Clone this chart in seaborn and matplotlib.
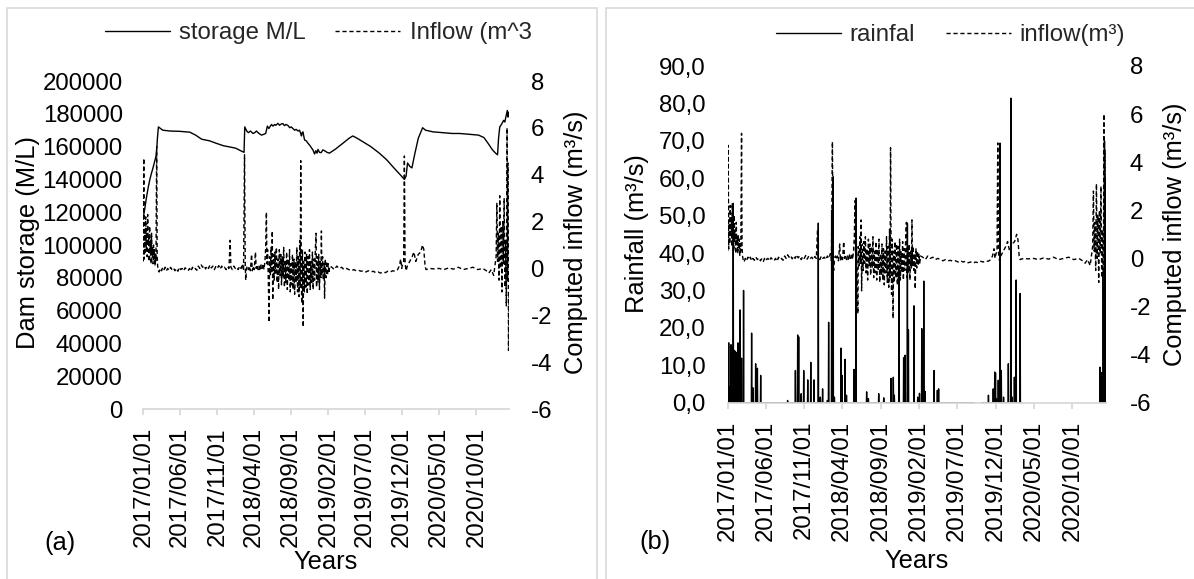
import numpy as np
import pandas as pd
import matplotlib
matplotlib.use("Agg")
import matplotlib.pyplot as plt
from matplotlib.patches import Rectangle
import seaborn as sns

# ---------------- data ----------------
START = "2017-01-01"
END_DAY = 1503

tick_labels = ["2017/01/01", "2017/06/01", "2017/11/01", "2018/04/01", "2018/09/01",
               "2019/02/01", "2019/07/01", "2019/12/01", "2020/05/01", "2020/10/01"]

# dam storage (M/L): day offset from 2017-01-01, value
storage_day = [0, 5, 12, 20, 27, 33, 38, 45, 52, 56, 58, 62, 80, 110, 150, 191, 215, 240, 273, 300,
               330, 355, 380, 400, 414, 417, 425, 432, 440, 451, 458, 465, 475, 486, 495, 503, 510, 516,
               520, 527, 533, 540, 545, 553, 560, 567, 574, 580, 587, 595, 602, 608, 615, 622, 628, 636,
               642, 647, 650, 653, 656, 660, 663, 670, 677, 683, 690, 697, 704, 709, 714, 718, 724, 731,
               738, 745, 755, 765, 790, 820, 845, 861, 880, 902, 935, 970, 1000, 1030, 1055, 1073, 1080,
               1086, 1095, 1104, 1115, 1130, 1148, 1160, 1190, 1230, 1270, 1300, 1340, 1378, 1400, 1417,
               1435, 1448, 1456, 1460, 1465, 1472, 1481, 1486, 1490, 1496, 1499, 1502]
storage_ml = [117000, 121000, 128000, 135000, 140000, 143500, 146000, 150000, 154000, 160000, 165000,
              172000, 170000, 169500, 169300, 168800, 167000, 164500, 163500, 162000, 160500, 159800,
              159000, 157500, 156500, 172000, 169500, 168500, 169500, 168000, 168500, 169500, 168000,
              167000, 167500, 168000, 172500, 171000, 172000, 173500, 172500, 173500, 173000, 174200,
              173000, 173800, 174000, 172800, 173500, 172800, 171500, 172000, 171000, 170000, 170500,
              169500, 170000, 168000, 166500, 168500, 169000, 166000, 164000, 163500, 162000, 161000,
              159500, 158000, 155500, 157500, 156000, 158300, 156500, 156300, 158000, 157500, 156500,
              156000, 158500, 162000, 165000, 166500, 165000, 163000, 160000, 156000, 152000, 147000,
              143000, 140000, 142000, 150000, 148000, 147000, 155000, 165000, 171500, 170000, 169000,
              168500, 168000, 168000, 167500, 167000, 165500, 162000, 158000, 156000, 155000, 165000,
              172000, 173500, 176000, 175000, 178000, 182000, 178000, 181000]

# computed inflow (m3/s)
inflow_day = [0, 2, 4, 6, 8, 10, 12, 14, 16, 18, 20, 22, 24, 26, 28, 30, 32, 34, 36, 38, 40, 42, 44,
              46, 48, 50, 52, 55, 57, 59, 62,
              65, 70, 75, 80, 85, 90, 95, 100, 106, 112, 118, 124, 130, 136, 142, 148, 154, 160, 166,
              172, 178, 184, 190, 196, 202, 208, 214, 220, 226, 232, 238, 244, 250, 256, 262, 268, 274,
              280, 286, 292, 298, 304, 310, 316, 322, 328, 334, 340, 346, 352, 357, 360, 366, 372, 378,
              384, 390, 396, 402, 408, 412, 416, 419, 421, 424, 428, 432, 436, 440, 445, 448, 452, 456,
              461, 464, 468, 472, 476, 480, 484, 488, 492, 496, 500,
              503, 506, 508, 511, 514, 517, 519, 522, 525, 528, 530, 532, 535, 538, 541, 544, 547, 550,
              553, 556, 559, 562, 565, 568, 571, 574, 577, 580, 583, 586, 589, 592, 595, 598, 601, 604,
              607, 610, 613, 616, 619, 622, 625, 628, 631, 634, 637, 640, 643, 645, 647, 649, 651, 654,
              657, 659, 662, 665, 668, 671, 674, 677, 680, 683, 686, 689, 692, 695, 698, 701, 704, 707,
              710, 712, 715, 718, 721, 724, 727, 730, 732, 734, 737, 740, 743, 745, 748, 751, 754, 757,
              760, 763, 766,
              775, 785, 795, 805, 815, 825, 835, 845, 855, 865, 875, 885, 895, 905, 915, 925, 935, 945,
              955, 965, 975, 985, 995, 1005, 1015, 1025, 1035, 1045, 1052, 1058, 1062, 1066, 1070, 1073,
              1076, 1080, 1085,
              1095, 1105, 1112, 1120, 1130, 1140, 1148, 1153, 1158, 1162, 1175, 1195, 1215, 1235, 1255,
              1275, 1295, 1315, 1335, 1355, 1375, 1395, 1410, 1420, 1430, 1440, 1445,
              1450, 1453, 1456, 1459, 1462, 1465, 1468, 1471, 1474, 1477, 1480, 1483, 1486, 1489, 1492,
              1495, 1497, 1499, 1501, 1503]
inflow_m3s = [0.3, 4.7, 0.4, 1.6, 0.6, 2.2, 0.9, 1.7, 0.5, 2.3, 1.0, 1.4, 0.3, 1.8, 0.7, 1.2, 0.2, 1.5,
              0.6, 0.9, 0.2, 1.0, 0.4, 0.8, 0.1, 0.6, 0.3, 5.2, 0.5, 0.1, -0.1,
              -0.15, 0.0, -0.1, 0.05, -0.05, 0.05, -0.1, 0.0, -0.08, 0.05, -0.05, 0.02, -0.1, 0.0, -0.12,
              0.05, -0.05, 0.0, -0.1, 0.03, -0.05, -0.1, 0.0, -0.12, 0.05, -0.05, 0.0, -0.08, 0.1, 0.0,
              0.15, 0.05, 0.12, -0.02, 0.1, 0.0, 0.15, 0.02, 0.1, -0.05, 0.08, 0.0, 0.12, -0.03, 0.1, 0.0,
              0.05, -0.05, 0.08, 0.0, 1.2, 0.05, -0.05, 0.1, 0.0, 0.05, -0.05, 0.1, 0.0, 0.2, -0.1, 4.85,
              0.1, -0.5, 0.0, 0.1, -0.05, 0.1, -0.1, 0.6, -0.1, 0.1, -0.05, 0.7, 0.0, 0.15, -0.05, 0.1,
              -0.1, 0.15, 0.0, 0.2, -0.05, 0.3,
              0.9, 2.4, 0.2, 0.8, -0.6, -2.3, 0.5, -0.3, 0.9, -0.2, 1.6, -1.35, 0.6, -0.5, 0.7, -0.2,
              0.9, -0.6, 0.4, -0.9, 0.8, -0.3, 0.6, -0.7, 0.5, -0.4, 0.9, -0.8, 0.3, -0.6, 0.7, -0.9,
              0.4, -0.5, 0.8, -1.0, 0.2, -0.7, 0.6, -0.9, 0.4, -1.1, 0.3, -0.6, 0.9, -1.0, 0.5, -1.2,
              1.2, -0.8, 4.6, 0.5, -1.5, 0.8, -2.5, 0.3, -1.0, 0.7, -0.8, 0.6, -1.1, 0.5, -0.7, 0.8,
              -0.9, 0.3, -0.6, 0.7, -0.9, 0.4, -0.5, 0.8, 1.5, -0.8, 0.5, -0.6, 0.6, -0.9, 0.3, -0.4,
              1.6, -0.3, 0.5, -0.5, 0.2, -1.27, 0.4, -0.4, 0.3, -0.3, 0.2, -0.2, 0.1,
              0.05, -0.05, 0.1, 0.0, 0.05, -0.05, 0.0, -0.05, -0.1, -0.05, -0.1, -0.08, -0.12, -0.1,
              -0.15, -0.1, -0.15, -0.12, -0.18, -0.15, -0.2, -0.15, -0.18, -0.12, -0.15, -0.1, -0.12,
              -0.05, 0.1, 0.4, 0.0, 0.2, 0.3, 4.8, 0.2, -0.1, 0.1,
              0.3, 0.5, 0.7, 0.3, 0.6, 0.7, 1.0, 0.8, 0.1, -0.05, 0.0, -0.02, 0.0, -0.05, 0.02, -0.03,
              0.05, -0.05, 0.0, 0.05, -0.05, 0.0, -0.1, -0.2, -0.05, -0.3, 0.1,
              0.5, 2.8, 0.3, 1.5, -0.5, 3.1, 0.0, 1.8, -1.0, 2.0, 0.2, 3.0, -0.8, 1.2, -1.6, 6.0, -0.5,
              4.5, -3.5, -1.0]

# rainfall: days on which the rain line is drawn, and the rain peaks
rain_spans = [(0, 980), (1009, 1168), (1478, 1503)]
rain_day = [1, 4, 9, 13, 17, 22, 25, 29, 33, 41, 49, 55, 63, 95, 100, 111, 118, 131,
            238, 269, 278, 282, 292, 302, 318, 330, 343, 360, 368, 377, 396, 401, 413, 419, 424,
            450, 454, 466, 472, 502, 506, 510, 552, 559, 600, 620, 649, 658, 662, 681, 699, 705,
            714, 718, 740, 755, 762, 771, 779, 784, 820, 833, 838,
            1036, 1055, 1061, 1064, 1068, 1075, 1082, 1087, 1096, 1115, 1125, 1130, 1139, 1146, 1162,
            1479, 1483, 1486, 1489, 1492, 1495, 1497, 1499, 1501]
rain_mm = [14.6, 16.0, 4.2, 15.5, 14.5, 53.3, 14.0, 13.8, 13.5, 16.0, 24.8, 11.9, 30.0, 18.6, 4.0,
           10.4, 9.2, 7.3,
           0.6, 8.6, 18.1, 17.6, 2.4, 8.6, 6.1, 10.8, 6.1, 48.0, 1.5, 3.7, 0.6, 21.5, 51.5, 60.4, 1.5,
           14.6, 7.3, 11.6, 2.0, 8.9, 2.9, 54.7, 2.9, 1.1, 2.4, 1.3, 6.5, 6.8, 2.0, 36.0, 12.0, 12.7,
           48.0, 19.5, 25.9, 1.5, 2.5, 19.8, 32.5, 3.0, 8.6, 3.3, 3.7,
           2.0, 3.7, 8.2, 8.0, 1.0, 6.0, 69.4, 8.6, 1.5, 10.4, 81.4, 1.5, 6.8, 32.8, 29.2,
           9.5, 1.0, 8.0, 2.0, 35.0, 5.0, 70.0, 10.0, 60.0]

# ---------------- style ----------------
sns.set_theme(style="white")
plt.rcParams["font.family"] = ["Liberation Sans", "DejaVu Sans"]
plt.rcParams["axes.unicode_minus"] = False

W, H = 1194, 579
PT = 0.72  # points per pixel at 100 dpi
fig = plt.figure(figsize=(W / 100, H / 100), dpi=100)

TICK_FS = 17.3
LAB_FS = 18.4
GRID = "#d9d9d9"
DASH = (0, (3, 2))

start = pd.Timestamp(START)
def to_dates(days):
    return start + pd.to_timedelta(np.asarray(days), unit="D")

tick_dates = pd.to_datetime(tick_labels, format="%Y/%m/%d")


def px_axes(x0, x1, ytop, ybot):
    return fig.add_axes([x0 / W, 1 - ybot / H, (x1 - x0) / W, (ybot - ytop) / H])


def style_axes(ax, ax2, lpad_px, rpad_px):
    for a in (ax, ax2):
        for s in a.spines.values():
            s.set_visible(False)
        a.set_facecolor("none")
        a.grid(False)
        a.set_xlabel("")
        a.set_ylabel("")
    ax.spines["bottom"].set_visible(True)
    ax.spines["bottom"].set_color(GRID)
    ax.spines["bottom"].set_linewidth(1.3)
    ax.set_xlim(start, start + pd.Timedelta(days=END_DAY))
    ax.set_xticks(tick_dates)
    ax.set_xticklabels(tick_labels, rotation=90, fontsize=TICK_FS)
    ax.tick_params(axis="x", length=4, width=1.3, color=GRID, pad=9, direction="out",
                   bottom=True, labelcolor="black")
    ax.tick_params(axis="y", length=0, pad=lpad_px * PT, labelsize=TICK_FS, labelcolor="black",
                   left=True)
    ax2.tick_params(axis="y", length=0, pad=rpad_px * PT, labelsize=TICK_FS, labelcolor="black",
                    right=True)
    for t in ax.get_xticklabels():
        t.set_va("top")
        t.set_ha("center")


# ---------------- panel (a) ----------------
axa = px_axes(143.3, 509, 81, 409)
axa2 = axa.twinx()
sto = pd.DataFrame({"date": to_dates(storage_day), "storage": storage_ml})
inf = pd.DataFrame({"date": to_dates(inflow_day), "inflow": inflow_m3s})
sns.lineplot(data=sto, x="date", y="storage", ax=axa, color="black", lw=1.0, estimator=None)
sns.lineplot(data=inf, x="date", y="inflow", ax=axa2, color="black", lw=1.0, estimator=None,
             linestyle=DASH)
axa.set_ylim(0, 200000)
axa.set_yticks(np.arange(0, 200001, 20000))
axa.set_yticklabels([f"{v:d}" for v in range(0, 200001, 20000)])
axa2.set_ylim(-6, 8)
axa2.set_yticks(np.arange(-6, 9, 2))
axa2.set_yticklabels([f"{v:d}" for v in range(-6, 9, 2)])
style_axes(axa, axa2, 20.5, 21.5)
axa.legend([axa.lines[0], axa2.lines[0]], ["storage M/L", "Inflow (m^3"], loc="center left",
           bbox_to_anchor=(105 / W, 1 - 33 / H), bbox_transform=fig.transFigure, ncol=2,
           frameon=False, fontsize=TICK_FS, handlelength=2.7, handletextpad=0.4,
           columnspacing=1.2, borderpad=0, borderaxespad=0)

# ---------------- panel (b) ----------------
axb = px_axes(727.7, 1106, 66, 402.7)
axb2 = axb.twinx()
rain_map = dict(zip(rain_day, rain_mm))
for (a, b) in rain_spans:
    days = np.arange(a, b + 1)
    vals = [rain_map.get(int(d), 0.0) for d in days]
    seg = pd.DataFrame({"date": to_dates(days), "rain": vals})
    sns.lineplot(data=seg, x="date", y="rain", ax=axb, color="black", lw=1.0, estimator=None)
sns.lineplot(data=inf, x="date", y="inflow", ax=axb2, color="black", lw=1.0, estimator=None,
             linestyle=DASH)
axb.set_ylim(0, 90)
axb.set_yticks(np.arange(0, 91, 10))
axb.set_yticklabels([f"{v:d},0" for v in range(0, 91, 10)])
axb2.set_ylim(-6, 8)
axb2.set_yticks(np.arange(-6, 9, 2))
axb2.set_yticklabels([f"{v:d}" for v in range(-6, 9, 2)])
style_axes(axb, axb2, 22, 24)
axb.legend([axb.lines[0], axb2.lines[0]], ["rainfal", "inflow(m³)"], loc="center left",
           bbox_to_anchor=(776 / W, 1 - 35 / H), bbox_transform=fig.transFigure, ncol=2,
           frameon=False, fontsize=TICK_FS, handlelength=2.7, handletextpad=0.35,
           columnspacing=1.3, borderpad=0, borderaxespad=0)

# ---------------- labels & frames ----------------
def ftext(x, y, s, **kw):
    fig.text(x / W, 1 - y / H, s, fontsize=LAB_FS, color="black", ha="center", va="center", **kw)

ftext(28.5, 242, "Dam storage (M/L)", rotation=90)
ftext(576.5, 242, "Computed inflow (m³/s)", rotation=90)
ftext(637, 234, "Rainfall (m³/s)", rotation=90)
ftext(1175, 234, "Computed inflow (m³/s)", rotation=90)
ftext(326, 562, "Years")
ftext(917, 561, "Years")
ftext(60, 543, "(a)")
ftext(655, 542, "(b)")

fig.patches.append(Rectangle((7 / W, -0.05), 590 / W, 1.05 - 8 / H, transform=fig.transFigure,
                             fill=False, edgecolor=GRID, lw=1.2))
fig.patches.append(Rectangle((606 / W, -0.05), 600 / W, 1.05 - 8 / H, transform=fig.transFigure,
                             fill=False, edgecolor=GRID, lw=1.2))

fig.savefig("out.png", dpi=100, facecolor="white")
